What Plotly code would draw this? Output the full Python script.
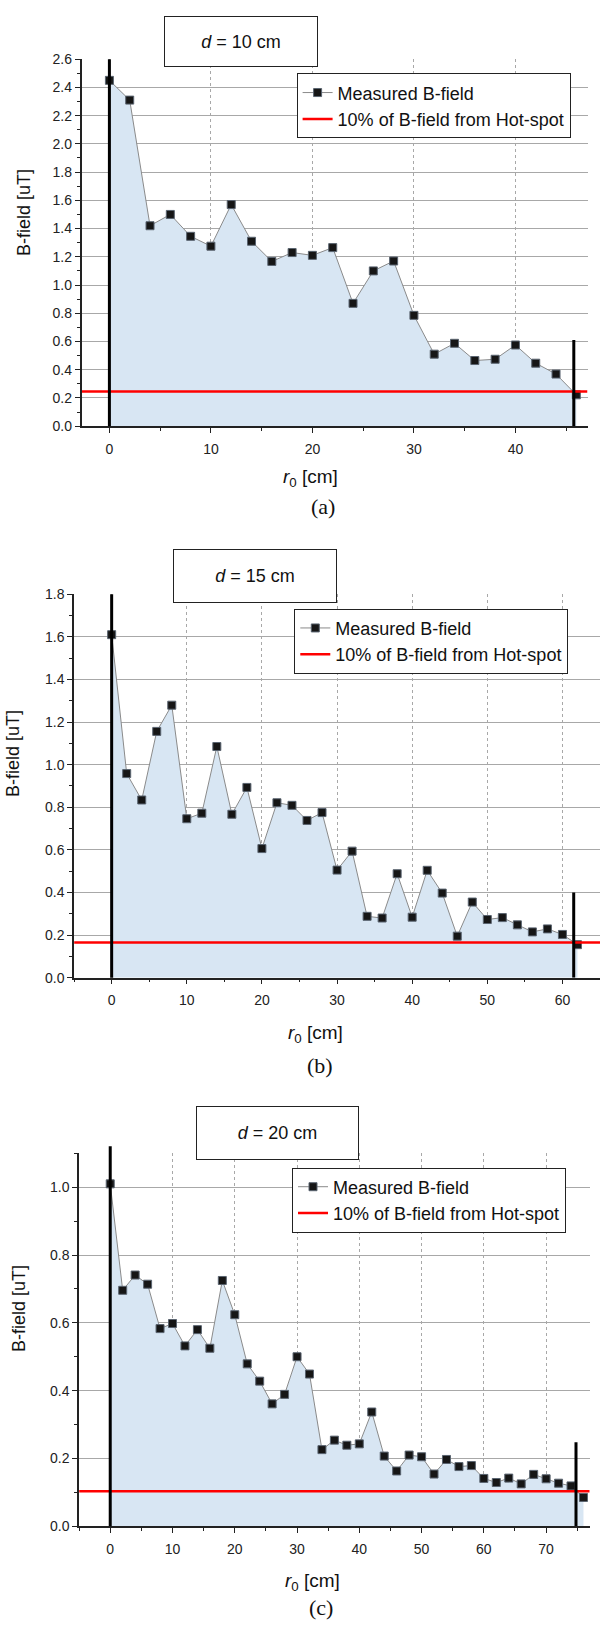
import plotly.graph_objects as go

W, H = 600, 1630

# ---------------- data ----------------
r_a = list(range(0, 47, 2))
B_a = [2.45, 2.31, 1.42, 1.50, 1.345, 1.275, 1.57, 1.31, 1.167, 1.23, 1.21, 1.265,
       0.87, 1.10, 1.17, 0.785, 0.51, 0.587, 0.465, 0.474, 0.575, 0.446, 0.369, 0.222]
thr_a = 0.245
cut_a = 45.75
cut_a_top = 0.61

r_b = list(range(0, 63, 2))
B_b = [1.61, 0.958, 0.834, 1.156, 1.279, 0.746, 0.772, 1.085, 0.767, 0.893, 0.606,
       0.821, 0.809, 0.738, 0.775, 0.505, 0.594, 0.288, 0.280, 0.488, 0.284, 0.504,
       0.397, 0.195, 0.355, 0.273, 0.282, 0.248, 0.215, 0.229, 0.203, 0.155]
thr_b = 0.165
cut_b = 61.5
cut_b_top = 0.40

r_c = list(range(0, 77, 2))
B_c = [1.01, 0.696, 0.741, 0.714, 0.583, 0.598, 0.532, 0.580, 0.525, 0.725, 0.624,
       0.479, 0.428, 0.361, 0.389, 0.500, 0.449, 0.226, 0.254, 0.239, 0.243, 0.337,
       0.207, 0.163, 0.210, 0.205, 0.154, 0.197, 0.176, 0.179, 0.141, 0.129, 0.142,
       0.125, 0.153, 0.140, 0.127, 0.119, 0.085]
thr_c = 0.103
cut_c = 74.8
cut_c_top = 0.248

titles = ["<i>d</i> = 10 cm", "<i>d</i> = 15 cm", "<i>d</i> = 20 cm"]
captions = ["(a)", "(b)", "(c)"]
legend_names = ["Measured B-field", "10% of B-field from Hot-spot"]

# ---------------- layout helpers ----------------
def px(x):
    return x / W

def py(y):
    return 1 - y / H

FONT = "Liberation Sans, Arial, sans-serif"
SERIF = "Liberation Serif, Times New Roman, serif"

panels = [
    dict(r=r_a, B=B_a, thr=thr_a, cut=cut_a, cut_top=cut_a_top,
         xr=[-2.75, 47.1], yr=[0, 2.6],
         dom_x=[81.5, 587.5], dom_y=[51.7, 422.3], zero_top_px=51.7,
         title_box=(240.5, 33.5, 154, 51), legend_pos=(296.6, 66),
         xtitle=(310, 475), cap=(323, 503), ytitle=(24, 207)),
    dict(r=r_b, B=B_b, thr=thr_b, cut=cut_b, cut_top=cut_b_top,
         xr=[-5, 65], yr=[0, 1.8],
         dom_x=[74.1, 600], dom_y=[592, 979.3], zero_top_px=592,
         title_box=(255, 573.7, 164, 54), legend_pos=(294.3, 606.7),
         xtitle=(316, 1036.5), cap=(320, 1068), ytitle=(12.5, 753)),
    dict(r=r_c, B=B_c, thr=thr_c, cut=cut_c, cut_top=cut_c_top,
         xr=[-5, 77], yr=[0, 1.1],
         dom_x=[79.1, 589.7], dom_y=[1156.7, 1533.3], zero_top_px=1149.5,
         title_box=(277, 1135.8, 163, 53.7), legend_pos=(292, 1171),
         xtitle=(312, 1590), cap=(321, 1615), ytitle=(19, 1314)),
]

fig = go.Figure()
layout = dict(width=W, height=H, margin=dict(l=0, r=0, t=0, b=0),
              paper_bgcolor="white", plot_bgcolor="white",
              font=dict(family=FONT, color="#222"), showlegend=True)
shapes = []
annotations = []

for i, p in enumerate(panels):
    n = i + 1
    xa = "x" if n == 1 else f"x{n}"
    ya = "y" if n == 1 else f"y{n}"
    leg = "legend" if n == 1 else f"legend{n}"

    # fill under curve
    fig.add_trace(go.Scatter(x=p["r"], y=p["B"], mode="none", fill="tozeroy",
                             fillcolor="#d8e6f3", showlegend=False, hoverinfo="skip",
                             xaxis=xa, yaxis=ya))
    # measured data
    fig.add_trace(go.Scatter(x=p["r"], y=p["B"], mode="lines+markers",
                             name=legend_names[0],
                             line=dict(color="#8a8a8a", width=1),
                             marker=dict(symbol="square", size=8, color="#161616",
                                         line=dict(color="#5a6470", width=1)),
                             xaxis=xa, yaxis=ya, legend=leg))
    # threshold line
    fig.add_trace(go.Scatter(x=[p["xr"][0], p["xr"][1]], y=[p["thr"], p["thr"]],
                             mode="lines", name=legend_names[1],
                             line=dict(color="#ff0000", width=2.5),
                             xaxis=xa, yaxis=ya, legend=leg))

    ax_key = "xaxis" if n == 1 else f"xaxis{n}"
    ay_key = "yaxis" if n == 1 else f"yaxis{n}"
    layout[ax_key] = dict(domain=[px(p["dom_x"][0]), px(p["dom_x"][1])],
                          range=p["xr"], anchor=ya, showline=True, linecolor="#222",
                          linewidth=1.5, ticks="outside", ticklen=5, tickwidth=1.2,
                          tickcolor="#222", tick0=0, dtick=10, zeroline=False,
                          showgrid=True, gridcolor="#a8a8a8", griddash="dot", gridwidth=1,
                          ticklabelstandoff=4,
                          minor=dict(ticks="outside", ticklen=3, tick0=5, dtick=10,
                                     tickcolor="#222", showgrid=False),
                          tickfont=dict(size=14, family=FONT, color="#222"))
    layout[ay_key] = dict(domain=[py(p["dom_y"][1]), py(p["dom_y"][0])],
                          range=p["yr"], anchor=xa, showline=True, linecolor="#222",
                          linewidth=1.5, ticks="outside", ticklen=5, tickwidth=1.2,
                          tickcolor="#222", tick0=0, dtick=0.2, tickformat=".1f",
                          zeroline=False, showgrid=True, gridcolor="#a8a8a8", gridwidth=1,
                          minor=dict(ticks="outside", ticklen=3, dtick=0.1,
                                     tickcolor="#222", showgrid=False),
                          tickfont=dict(size=14, family=FONT, color="#222"))

    # legend
    lx, ly = p["legend_pos"]
    layout[leg] = dict(x=px(lx), y=py(ly), xanchor="left", yanchor="top",
                       bgcolor="white", bordercolor="#222", borderwidth=1,
                       font=dict(size=18, family=FONT, color="#111"),
                       tracegroupgap=0, itemwidth=30)

    # vertical black lines (left one may reach slightly above the plot)
    shapes.append(dict(type="line", xref=xa, yref="paper", x0=0, x1=0,
                       y0=py(p["dom_y"][1]), y1=py(p["zero_top_px"]),
                       line=dict(color="black", width=3), layer="above"))
    shapes.append(dict(type="line", xref=xa, yref=ya, x0=p["cut"], x1=p["cut"],
                       y0=0, y1=p["cut_top"], line=dict(color="black", width=3),
                       layer="above"))

    # title box
    tx, ty, tw, th = p["title_box"]
    annotations.append(dict(text=titles[i], xref="paper", yref="paper",
                            x=px(tx), y=py(ty), xanchor="center", yanchor="middle",
                            showarrow=False, width=tw - 2, height=th - 2,
                            bgcolor="white", bordercolor="#222", borderwidth=1,
                            borderpad=0, font=dict(size=18, family=FONT, color="#111")))
    # x title
    annotations.append(dict(text="<i>r</i><sub>0</sub> [cm]", xref="paper", yref="paper",
                            x=px(p["xtitle"][0]), y=py(p["xtitle"][1]),
                            xanchor="center", yanchor="middle", showarrow=False,
                            font=dict(size=19, family=FONT, color="#111")))
    # y title
    annotations.append(dict(text="B-field [uT]", xref="paper", yref="paper",
                            x=px(p["ytitle"][0]), y=py(p["ytitle"][1]),
                            xanchor="center", yanchor="middle", showarrow=False,
                            textangle=-90,
                            font=dict(size=18, family=FONT, color="#111")))
    # caption
    annotations.append(dict(text=captions[i], xref="paper", yref="paper",
                            x=px(p["cap"][0]), y=py(p["cap"][1]),
                            xanchor="center", yanchor="middle", showarrow=False,
                            font=dict(size=22, family=SERIF, color="#111")))

layout["shapes"] = shapes
layout["annotations"] = annotations
fig.update_layout(**layout)
fig.write_html("out.html", config={"displayModeBar": False},
               post_script="document.body.style.margin='0px';")
